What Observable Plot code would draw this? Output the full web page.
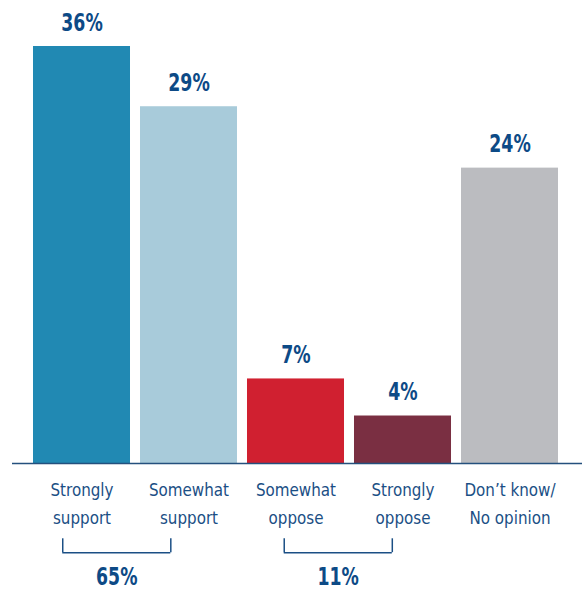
<!DOCTYPE html>
<html><head><meta charset="utf-8">
<script src="https://cdn.jsdelivr.net/npm/d3@7"></script>
<script src="https://cdn.jsdelivr.net/npm/@observablehq/plot@0.6"></script>
<style>
body{margin:0;background:#fff}
svg{display:block}
</style>
</head><body><div id="chart"></div>
<script>
// Data
const categories = ["Strongly\nsupport", "Somewhat\nsupport", "Somewhat\noppose", "Strongly\noppose", "Don’t know/\nNo opinion"];
const percentLabels = ["36%", "29%", "7%", "4%", "24%"];
const barHeights = [36, 30.8, 7.3, 4.1, 25.5];   // bar heights as drawn in the picture
const barColors = ["#2189b3", "#a8cbda", "#d02030", "#7a2f42", "#bbbcc0"];
const groupLabels = ["65%", "11%"];
const groupStart = [-0.18, 1.89];
const groupEnd = [0.83, 2.90];

const FONT = "'DejaVu Sans Condensed', 'DejaVu Sans', sans-serif";
const BLUE = "#0d4a86";
const CAT_BLUE = "#1b4f85";

const bars = categories.map((c, i) => ({i, cat: c, v: barHeights[i], label: percentLabels[i], color: barColors[i]}));
const groups = groupLabels.map((g, k) => ({label: g, x1: groupStart[k], x2: groupEnd[k], xm: (groupStart[k] + groupEnd[k]) / 2}));
const half = 0.4533;
const bracketTop = -6.5, bracketBottom = -7.7, groupLabelY = -9.8;

const chart = Plot.plot({
  width: 584,
  height: 589,
  marginLeft: 12,
  marginRight: 2,
  marginTop: 0,
  marginBottom: 0,
  style: {fontFamily: FONT, background: "#fff"},
  x: {domain: [0, 4], range: [81.5, 509.5], axis: null},
  y: {domain: [0, 36], range: [463, 46], axis: null},
  marks: [
    Plot.rectY(bars, {x1: d => d.i - half, x2: d => d.i + half, y1: 0, y2: "v", fill: "color"}),
    Plot.ruleY([0], {stroke: "#24507d", strokeWidth: 1.5}),
    Plot.text(bars, {x: "i", y: "v", text: "label", lineAnchor: "bottom", dy: -16,
      fill: BLUE, fontSize: 25, fontWeight: "bold"}),
    Plot.text(bars, {x: "i", y: 0, text: "cat", lineAnchor: "top", dy: 13, lineHeight: 1.5,
      fill: CAT_BLUE, fontSize: 18.5}),
    Plot.ruleX(groups.flatMap(g => [g.x1, g.x2]), {y1: bracketTop, y2: bracketBottom, stroke: CAT_BLUE, strokeWidth: 1.5}),
    Plot.ruleY(groups, {x1: "x1", x2: "x2", y: bracketBottom, stroke: CAT_BLUE, strokeWidth: 1.5}),
    Plot.text(groups, {x: "xm", y: groupLabelY, text: "label", lineAnchor: "middle",
      fill: BLUE, fontSize: 24, fontWeight: "bold"})
  ]
});
// condense the glyphs horizontally (the reference uses a condensed face)
d3.select(chart).selectAll("text").each(function() {
  const fs = +this.parentNode.getAttribute("font-size");
  const s = fs === 25 ? 0.77 : fs === 24 ? 0.8 : 0.91;
  const t = this.getAttribute("transform");
  if (t) this.setAttribute("transform", t + ` scale(${s},1)`);
});
document.getElementById("chart").appendChild(chart);
</script>
</body></html>
